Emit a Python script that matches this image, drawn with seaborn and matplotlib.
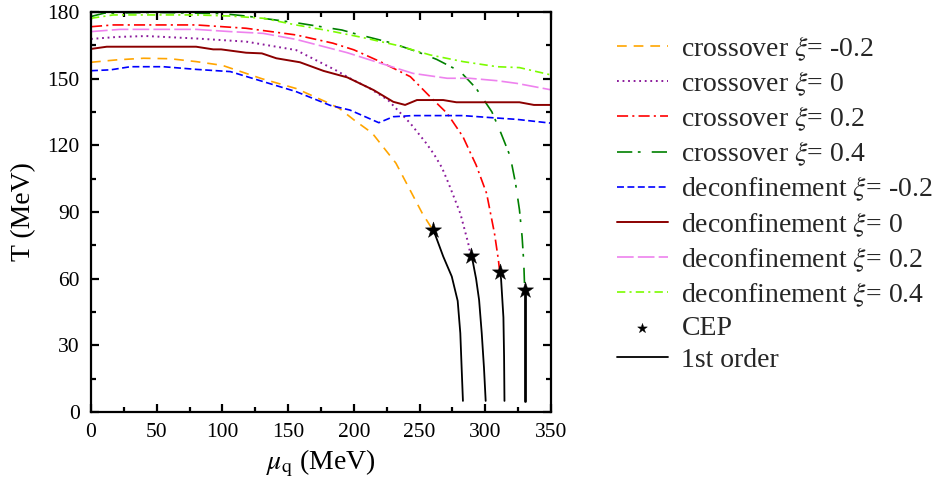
import matplotlib
matplotlib.use("Agg")
import matplotlib.pyplot as plt
from matplotlib.ticker import MultipleLocator
import seaborn as sns

# crossover lines (chiral), T vs mu_q in MeV
mu_co_m02 = [0, 20, 40, 60, 80, 100, 130, 156, 181, 189, 200, 214, 220, 232, 244, 252, 260]
T_co_m02 = [157.4, 158.5, 159.2, 159.0, 157.7, 156.0, 150.0, 145.6, 139.0, 136.6, 131.5, 125.5, 121.0, 112.0, 98.5, 89.5, 82.0]

mu_co_0 = [0, 20, 42, 80, 118, 156, 186, 197, 212, 226, 243, 255, 261, 267, 272, 281, 287, 289]
T_co_0 = [167.9, 168.8, 169.2, 168.1, 166.7, 162.9, 153.9, 150.2, 145.7, 140.4, 129.9, 121.0, 116.0, 110.0, 103.0, 89.4, 76.0, 70.0]

mu_co_02 = [0, 17, 80, 118, 156, 184, 200, 220, 243, 258, 271, 283, 288, 293, 301, 307, 310, 311]
T_co_02 = [173.4, 174.2, 174.2, 172.7, 169.7, 166.0, 163.0, 157.7, 150.9, 141.9, 134.4, 123.9, 117.5, 111.2, 98.4, 80.4, 68.4, 63.0]

mu_co_04 = [0, 10, 50, 100, 118, 156, 191, 200, 228, 248, 263, 281, 293, 305, 312, 319, 323, 326, 328, 329.3, 330]
T_co_04 = [178.0, 179.5, 179.8, 179.3, 178.2, 175.2, 171.9, 170.4, 166.2, 162.2, 158.7, 153.2, 145.7, 135.1, 125.4, 115.0, 103.0, 91.0, 79.0, 67.0, 55.0]

# deconfinement lines
mu_de_m02 = [0, 15, 30, 55, 80, 106, 131, 156, 182, 197, 219, 230, 245, 283, 304, 324, 350]
T_de_m02 = [153.6, 154.0, 155.4, 155.4, 154.2, 153.2, 148.7, 144.2, 138.0, 135.9, 130.2, 132.9, 133.4, 133.4, 132.5, 131.7, 130.0]

mu_de_0 = [0, 12, 80, 93, 99, 118, 130, 141, 159, 177, 195, 215, 230, 239, 248, 268, 278, 326, 337, 350]
T_de_0 = [163.4, 164.4, 164.4, 163.2, 163.2, 161.7, 161.4, 159.2, 157.4, 153.5, 150.6, 144.9, 139.6, 138.2, 140.4, 140.4, 139.4, 139.4, 138.2, 138.2]

mu_de_02 = [0, 22, 80, 106, 131, 156, 182, 195, 219, 245, 271, 288, 309, 324, 350]
T_de_02 = [171.2, 172.2, 172.2, 171.2, 170.4, 167.7, 163.7, 161.7, 157.2, 152.4, 150.2, 150.2, 149.1, 147.9, 145.0]

mu_de_04 = [0, 17, 80, 106, 131, 156, 182, 207, 233, 258, 283, 309, 326, 350]
T_de_04 = [177.2, 178.7, 178.7, 178.2, 177.2, 174.2, 171.5, 168.5, 165.0, 160.7, 157.7, 155.4, 155.0, 151.7]

# critical end points
mu_cep = [260, 289, 311, 330]
T_cep = [82, 70, 63, 55]

# first-order transition lines below each CEP
mu_fo = [
    [260, 262, 268, 274.5, 279, 281, 282, 283],
    [289, 290.5, 293, 295.3, 297.3, 299, 300.3],
    [311, 312, 313.8, 314.3, 314.6],
    [330, 330],
]
T_fo = [
    [82, 79.6, 70, 61, 50, 35.5, 20, 5],
    [70, 67.7, 60, 50.4, 35.5, 20, 5],
    [63, 60, 42.6, 25, 5],
    [55, 5],
]

sns.set_theme(style="white")
plt.rcParams["font.family"] = ["Liberation Serif", "DejaVu Serif"]
plt.rcParams["mathtext.fontset"] = "stix"
plt.rcParams["lines.scale_dashes"] = False

fig = plt.figure(figsize=(9.43, 4.82), dpi=100)
ax = fig.add_axes([0.0965, 0.1452, 0.4878, 0.8298])

series = [
    (mu_co_m02, T_co_m02, "#FFA500", (0, (7, 5)), 1.2, r"crossover $\xi$= -0.2"),
    (mu_co_0, T_co_0, "#8B1A9B", (0, (1.3, 2.7)), 1.4, r"crossover $\xi$= 0"),
    (mu_co_02, T_co_02, "#FF0000", (0, (8, 3, 1.5, 3)), 1.2, r"crossover $\xi$= 0.2"),
    (mu_co_04, T_co_04, "#008000", (0, (11, 4, 2, 8)), 1.2, r"crossover $\xi$= 0.4"),
    (mu_de_m02, T_de_m02, "#0000FF", (0, (5, 2.5)), 1.2, r"deconfinement $\xi$= -0.2"),
    (mu_de_0, T_de_0, "#8B0000", "-", 1.4, r"deconfinement $\xi$= 0"),
    (mu_de_02, T_de_02, "#EE82EE", (0, (12, 3)), 1.2, r"deconfinement $\xi$= 0.2"),
    (mu_de_04, T_de_04, "#7CFC00", (0, (6, 3, 1.5, 3)), 1.2, r"deconfinement $\xi$= 0.4"),
]

for mu, T, color, ls, lw, label in series:
    sns.lineplot(x=mu, y=T, ax=ax, color=color, linestyle=ls, linewidth=lw,
                 label=label, sort=False, estimator=None)

for i, (mu, T) in enumerate(zip(mu_fo, T_fo)):
    sns.lineplot(x=mu, y=T, ax=ax, color="black", linewidth=1.3 if i < 3 else 2.0,
                 label="1st order" if i == 0 else None, sort=False, estimator=None,
                 legend=i == 0)

sns.scatterplot(x=mu_cep, y=T_cep, ax=ax, marker="*", s=150, color="black",
                edgecolor="black", linewidth=0.3, label="CEP", zorder=5)

ax.set_xlim(0, 350)
ax.set_ylim(0, 180)
ax.xaxis.set_major_locator(MultipleLocator(50))
ax.xaxis.set_minor_locator(MultipleLocator(25))
ax.yaxis.set_major_locator(MultipleLocator(30))
ax.yaxis.set_minor_locator(MultipleLocator(15))
ax.tick_params(which="both", direction="in", top=True, right=True,
               bottom=True, left=True, color="black", width=1.6, labelsize=15.5,
               labelcolor="black")
ax.tick_params(which="major", length=6, pad=8)
ax.tick_params(which="minor", length=3.5)
for sp in ax.spines.values():
    sp.set_linewidth(1.6)
    sp.set_color("black")

ax.set_xlabel(r"$\mu_{\mathrm{q}}$ (MeV)", fontsize=20, labelpad=4, color="black")
ax.set_ylabel("T (MeV)", fontsize=20, labelpad=8, color="black")

handles, labels = ax.get_legend_handles_labels()
order = [r"crossover $\xi$= -0.2", r"crossover $\xi$= 0", r"crossover $\xi$= 0.2",
         r"crossover $\xi$= 0.4", r"deconfinement $\xi$= -0.2", r"deconfinement $\xi$= 0",
         r"deconfinement $\xi$= 0.2", r"deconfinement $\xi$= 0.4", "CEP", "1st order"]
hmap = dict(zip(labels, handles))
ax.legend([hmap[l] for l in order], order, loc="upper left",
          bbox_to_anchor=(617 / 943, 1 - 34 / 482), bbox_transform=fig.transFigure,
          frameon=False, fontsize=20, handlelength=1.82, handletextpad=0.5,
          labelspacing=0.24, borderpad=0, borderaxespad=0, markerscale=0.6)

fig.savefig("out.png", dpi=100)
